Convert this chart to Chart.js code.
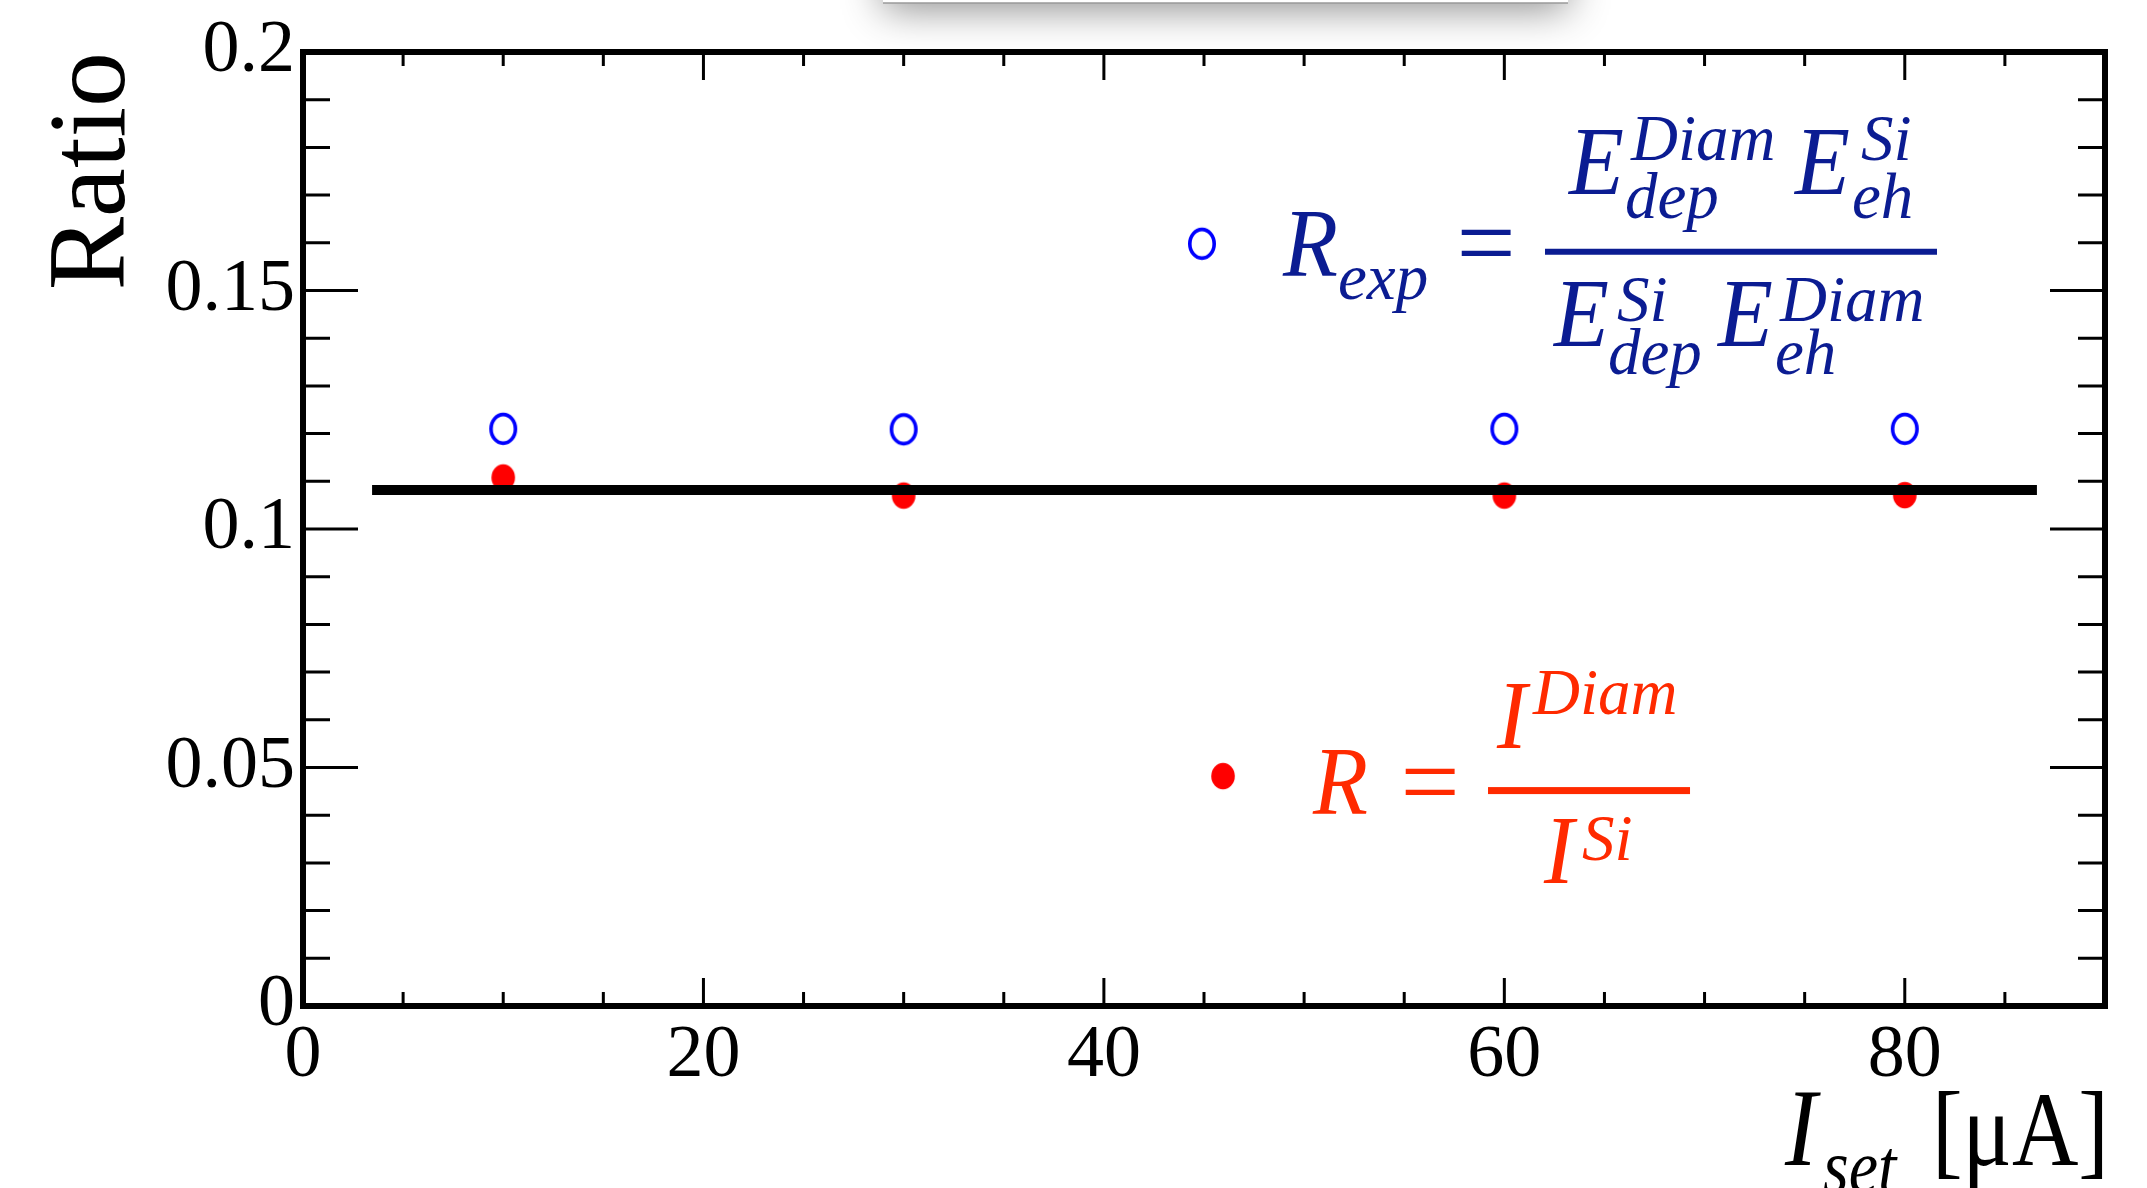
<!DOCTYPE html>
<html>
<head>
<meta charset="utf-8">
<script src="https://cdn.jsdelivr.net/npm/chart.js@4.4.1/dist/chart.umd.min.js"></script>
<style>
  html, body { margin: 0; padding: 0; background: #ffffff; overflow: hidden; }
  #wrap { position: relative; width: 2147px; height: 1188px; }
</style>
</head>
<body>
<div id="wrap"><canvas id="c"></canvas></div>
<script>
// ---------------- data ----------------
const currents = [10, 30, 60, 80];                       // I_set [uA]
const ratioExpected = [0.1210, 0.1209, 0.1210, 0.1210];  // open blue circles
const ratioMeasured = [0.1108, 0.1070, 0.1070, 0.1071];  // filled red dots
const fitX = [3.45, 86.6];                               // fitted constant line
const fitY = [0.1082, 0.1082];
const legendExpPos = [44.9, 0.1598];                     // legend marker (x, y)
const legendMeasPos = [45.95, 0.0482];
const xRange = [0, 90];
const yRange = [0, 0.2];
const xMajorStep = 20, xMinorDiv = 4;
const yMajorStep = 0.05, yMinorDiv = 5;
const yTitle = 'Ratio';

// ---------------- styles ----------------
const SERIF = "'Liberation Serif', 'Times New Roman', serif";
const BLUE_TXT = '#0b1c92';
const RED_TXT = '#ff2a00';

function ellipseMarker(w, h, rx, ry, fill, stroke, lw) {
  const c = document.createElement('canvas');
  c.width = w; c.height = h;
  const g = c.getContext('2d');
  g.beginPath();
  g.ellipse(w / 2, h / 2, rx, ry, 0, 0, Math.PI * 2);
  if (fill) { g.fillStyle = fill; g.fill(); }
  if (stroke) { g.strokeStyle = stroke; g.lineWidth = lw; g.stroke(); }
  return c;
}
const openBlue = ellipseMarker(34, 38, 12.2, 14.4, null, '#0000ff', 3.6);
const fillRed = ellipseMarker(28, 32, 11.8, 13.2, '#ff0000', null, 0);

const pts = (xs, ys) => xs.map((x, i) => ({ x: x, y: ys[i] }));

// ---------------- plugins ----------------
const frameAndTicks = {
  id: 'frameAndTicks',
  beforeDraw(chart) {
    const ctx = chart.ctx;
    ctx.save();
    ctx.fillStyle = '#ffffff';
    ctx.fillRect(0, 0, chart.width, chart.height);
    // cut-off title box at top with soft shadow
    ctx.shadowColor = 'rgba(0,0,0,0.45)';
    ctx.shadowBlur = 40;
    ctx.shadowOffsetY = 6;
    ctx.fillStyle = '#ffffff';
    ctx.fillRect(883, -60, 685, 63);
    ctx.shadowColor = 'transparent';
    ctx.strokeStyle = '#9a9a9a';
    ctx.lineWidth = 1.5;
    ctx.beginPath(); ctx.moveTo(883, 3); ctx.lineTo(1568, 3); ctx.stroke();
    ctx.restore();
  },
  afterDraw(chart) {
    const ctx = chart.ctx;
    const a = chart.chartArea;
    const xs = chart.scales.x, ys = chart.scales.y;
    ctx.save();
    ctx.strokeStyle = '#000';
    ctx.lineWidth = 3;
    ctx.lineCap = 'butt';
    ctx.beginPath();
    // x ticks (bottom and top)
    const xMinor = xMajorStep / xMinorDiv;
    for (let k = 0; xs.min + k * xMinor <= xs.max + 1e-9; k++) {
      const v = xs.min + k * xMinor;
      const len = (k % xMinorDiv === 0) ? 28 : 14;
      const px = xs.getPixelForValue(v);
      ctx.moveTo(px, a.bottom); ctx.lineTo(px, a.bottom - len);
      ctx.moveTo(px, a.top); ctx.lineTo(px, a.top + len);
    }
    // y ticks (left and right)
    const yMinor = yMajorStep / yMinorDiv;
    for (let k = 0; ys.min + k * yMinor <= ys.max + 1e-9; k++) {
      const v = ys.min + k * yMinor;
      const len = (k % yMinorDiv === 0) ? 55 : 27;
      const py = ys.getPixelForValue(v);
      ctx.moveTo(a.left, py); ctx.lineTo(a.left + len, py);
      ctx.moveTo(a.right, py); ctx.lineTo(a.right - len, py);
    }
    ctx.stroke();
    // frame
    ctx.lineWidth = 6;
    ctx.strokeRect(a.left, a.top, a.right - a.left, a.bottom - a.top);
    ctx.restore();

    // ---- rich text helpers ----
    function txt(s, x, y, size, italic, color, align, sy) {
      ctx.save();
      ctx.translate(x, y);
      if (sy) ctx.scale(1, sy);
      ctx.font = (italic ? 'italic ' : '') + size + 'px ' + SERIF;
      ctx.fillStyle = color;
      ctx.textAlign = align || 'left';
      ctx.textBaseline = 'alphabetic';
      ctx.fillText(s, 0, 0);
      ctx.restore();
    }
    const SY = 1.08;

    // ---- blue legend formula ----
    const bx = xs.getPixelForValue(legendExpPos[0]);
    const by = ys.getPixelForValue(legendExpPos[1]);
    const B = BLUE_TXT;
    txt('R', bx + 81, by + 32, 90, true, B, 'left', SY);
    txt('exp', bx + 136, by + 55, 65, true, B);
    txt('=', bx + 284, by + 34, 105, false, B, 'center');
    ctx.fillStyle = B;
    ctx.fillRect(bx + 343, by + 5, 392, 6);
    txt('E', bx + 367, by - 50, 90, true, B, 'left', SY);
    txt('Diam', bx + 429, by - 84, 65, true, B);
    txt('dep', bx + 423, by - 26, 65, true, B);
    txt('E', bx + 593, by - 50, 90, true, B, 'left', SY);
    txt('Si', bx + 659, by - 84, 65, true, B);
    txt('eh', bx + 650, by - 26, 65, true, B);
    txt('E', bx + 352, by + 102, 90, true, B, 'left', SY);
    txt('Si', bx + 415, by + 77, 65, true, B);
    txt('dep', bx + 406, by + 130, 65, true, B);
    txt('E', bx + 516, by + 102, 90, true, B, 'left', SY);
    txt('Diam', bx + 578, by + 77, 65, true, B);
    txt('eh', bx + 573, by + 130, 65, true, B);

    // ---- red legend formula ----
    const rx = xs.getPixelForValue(legendMeasPos[0]);
    const ry = ys.getPixelForValue(legendMeasPos[1]);
    const Rc = RED_TXT;
    txt('R', rx + 90, ry + 38, 90, true, Rc, 'left', SY);
    txt('=', rx + 207, ry + 41, 105, false, Rc, 'center');
    ctx.fillStyle = Rc;
    ctx.fillRect(rx + 265, ry + 11, 202, 7);
    txt('I', rx + 274, ry - 28, 90, true, Rc, 'left', SY);
    txt('Diam', rx + 310, ry - 62, 65, true, Rc);
    txt('I', rx + 321, ry + 107, 90, true, Rc, 'left', SY);
    txt('Si', rx + 359, ry + 84, 65, true, Rc);

    // ---- x axis title ----
    const base = 1165;
    txt('[\u03BCA]', a.right + 4, base, 92, false, '#000', 'right', 1.15);
    txt('I', a.right - 320, base, 96, true, '#000', 'left', 1.15);
    txt('set', a.right - 282, base + 27, 66, true, '#000', 'left', 1.15);
  }
};

// ---------------- chart ----------------
const tickFont = { family: SERIF, size: 74, lineHeight: 1.0 };
new Chart(document.getElementById('c'), {
  type: 'scatter',
  data: {
    datasets: [
      { type: 'line', label: 'fit', data: pts(fitX, fitY), borderColor: '#000', borderWidth: 10,
        pointRadius: 0, fill: false, order: 0, borderCapStyle: 'butt' },
      { label: 'R', data: pts(currents, ratioMeasured), pointStyle: fillRed, pointRadius: 12, order: 2 },
      { label: 'R_exp', data: pts(currents, ratioExpected), pointStyle: openBlue, pointRadius: 12, order: 2 },
      { label: 'legend R_exp', data: [{ x: legendExpPos[0], y: legendExpPos[1] }], pointStyle: openBlue, pointRadius: 12, order: 3 },
      { label: 'legend R', data: [{ x: legendMeasPos[0], y: legendMeasPos[1] }], pointStyle: fillRed, pointRadius: 12, order: 3 }
    ]
  },
  options: {
    responsive: true,
    maintainAspectRatio: false,
    devicePixelRatio: 1,
    animation: false,
    events: [],
    layout: { padding: { left: 0, right: 42, top: 52, bottom: 0 } },
    plugins: { legend: { display: false }, tooltip: { enabled: false } },
    scales: {
      x: {
        type: 'linear', min: xRange[0], max: xRange[1],
        grid: { display: false, drawTicks: false },
        border: { display: false },
        ticks: { stepSize: xMajorStep, includeBounds: false, autoSkip: false, maxRotation: 0,
                 font: tickFont, color: '#000', padding: 14 },
        afterFit(s) { s.height = 182; }
      },
      y: {
        type: 'linear', min: yRange[0], max: yRange[1],
        grid: { display: false, drawTicks: false },
        border: { display: false },
        ticks: { stepSize: yMajorStep, autoSkip: false, font: tickFont, color: '#000', padding: 8,
                 callback: (v) => String(Number(v.toFixed(3))) },
        title: { display: true, text: yTitle, align: 'end', color: '#000',
                 font: { family: SERIF, size: 110 }, padding: { top: 29, bottom: 0 } },
        afterFit(s) { s.width = 303; }
      }
    }
  },
  plugins: [frameAndTicks]
});
</script>
</body>
</html>
